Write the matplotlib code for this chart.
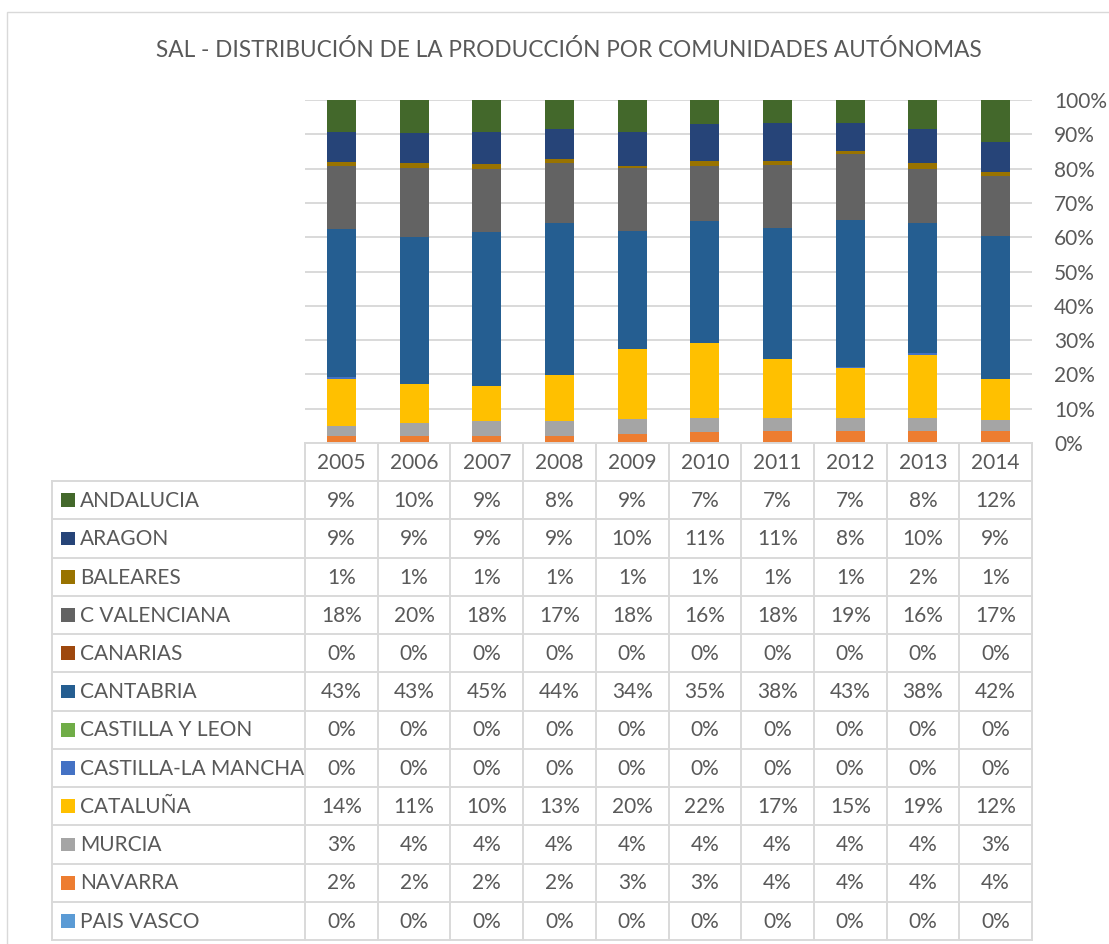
import matplotlib
matplotlib.use("Agg")
import matplotlib.pyplot as plt
from matplotlib.patches import Rectangle
import numpy as np

plt.rcParams['font.family'] = ['Lato', 'DejaVu Sans']

years = ['2005', '2006', '2007', '2008', '2009', '2010', '2011', '2012', '2013', '2014']

# table order (top to bottom); stacked bottom-up in reverse
regions = ['ANDALUCIA', 'ARAGON', 'BALEARES', 'C VALENCIANA', 'CANARIAS', 'CANTABRIA',
           'CASTILLA Y LEON', 'CASTILLA-LA MANCHA', 'CATALUÑA', 'MURCIA', 'NAVARRA', 'PAIS VASCO']
colors = ['#43682B', '#264478', '#997300', '#636363', '#9E480E', '#255E91',
          '#70AD47', '#4472C4', '#FFC000', '#A5A5A5', '#ED7D31', '#5B9BD5']

# shares in %, estimated from the bars
andalucia   = [9.4, 9.7, 9.4, 8.4, 9.4, 7.0, 6.7, 6.7, 8.4, 12.1]
aragon      = [8.6, 8.8, 9.4, 8.8, 9.7, 10.8, 11.1, 8.3, 10.1, 9.0]
baleares    = [1.2, 1.2, 1.2, 1.2, 0.7, 1.3, 1.1, 0.7, 1.7, 1.1]
cvalenciana = [18.3, 20.2, 18.4, 17.4, 18.4, 16.2, 18.3, 19.3, 15.8, 17.4]
canarias    = [0, 0, 0, 0, 0, 0, 0, 0, 0, 0]
cantabria   = [43.3, 42.9, 45.0, 44.4, 34.4, 35.4, 38.4, 42.7, 37.9, 41.6]
cyleon      = [0, 0, 0, 0, 0, 0, 0, 0, 0, 0]
clmancha    = [0.4, 0, 0.1, 0, 0, 0, 0, 0.3, 0.3, 0.2]
cataluna    = [13.8, 11.4, 10.2, 13.4, 20.4, 22.1, 17.2, 14.8, 18.6, 11.8]
murcia      = [3.1, 3.9, 4.4, 4.4, 4.4, 4.1, 3.6, 3.6, 3.6, 3.2]
navarra     = [1.9, 1.9, 1.9, 2.0, 2.6, 3.1, 3.6, 3.6, 3.6, 3.6]
paisvasco   = [0, 0, 0, 0, 0, 0, 0, 0, 0, 0]

series = [andalucia, aragon, baleares, cvalenciana, canarias, cantabria,
          cyleon, clmancha, cataluna, murcia, navarra, paisvasco]

W, H = 1109, 944
fig = plt.figure(figsize=(W / 100, H / 100), dpi=100)

def px(l, t, r, b):
    return [l / W, 1 - b / H, (r - l) / W, (b - t) / H]

txt = '#595959'
grid = '#D9D9D9'

# chart border
fig.patches.append(Rectangle((7 / W, -0.01), 1.1, 1 - 12 / H + 0.01, transform=fig.transFigure,
                             fill=False, edgecolor=grid, lw=1))

fig.text(569 / W, 1 - 50 / H, 'SAL - DISTRIBUCIÓN DE LA PRODUCCIÓN POR COMUNIDADES AUTÓNOMAS',
         ha='center', va='center', fontsize=16.3, color=txt)

# bars
ax = fig.add_axes(px(305, 100, 1032, 443))
x = np.arange(len(years))
data = np.array(series, dtype=float)
data = data / data.sum(axis=0) * 100
bottom = np.zeros(len(years))
for i in range(len(regions) - 1, -1, -1):
    ax.bar(x, data[i], 0.4, bottom=bottom, color=colors[i], zorder=3)
    bottom += data[i]
ax.set_xlim(-0.5, 9.5)
ax.set_ylim(0, 100)
ax.set_yticks(np.arange(0, 101, 10))
ax.set_yticklabels([f'{v}%' for v in range(0, 101, 10)])
ax.yaxis.tick_right()
ax.tick_params(axis='y', length=0, pad=16, labelsize=15, labelcolor=txt)
ax.set_xticks([])
ax.grid(axis='y', color=grid, lw=1.4, zorder=0)
for s in ax.spines.values():
    s.set_visible(False)

# data table
tx = fig.add_axes(px(52, 443, 1032, 940))
left = -0.5 - (305 - 52) / 72.7
tx.set_xlim(left, 9.5)
tx.set_ylim(13, 0)
tx.axis('off')
tx.plot([-0.5, 9.5], [0, 0], color=grid, lw=1.4, clip_on=False)
for r in range(1, 14):
    tx.plot([left, 9.5], [r, r], color=grid, lw=1.4, clip_on=False)
tx.plot([left, left], [1, 13], color=grid, lw=1.4, clip_on=False)
for k in range(11):
    tx.plot([-0.5 + k, -0.5 + k], [0, 13], color=grid, lw=1.4, clip_on=False)

for j, yr in enumerate(years):
    tx.text(j, 0.52, yr, ha='center', va='center', fontsize=15, color=txt)

for i, name in enumerate(regions):
    yc = i + 1.5
    tx.add_patch(Rectangle((left + 9 / 72.7, yc - 0.18), 14 / 72.7, 0.36, color=colors[i], lw=0))
    tx.text(left + 28 / 72.7, yc + 0.02, name, ha='left', va='center', fontsize=15, color=txt)
    for j in range(len(years)):
        tx.text(j, yc + 0.02, f'{int(series[i][j] + 0.5)}%', ha='center', va='center',
                fontsize=15, color=txt)

fig.savefig('out.png', dpi=100)
